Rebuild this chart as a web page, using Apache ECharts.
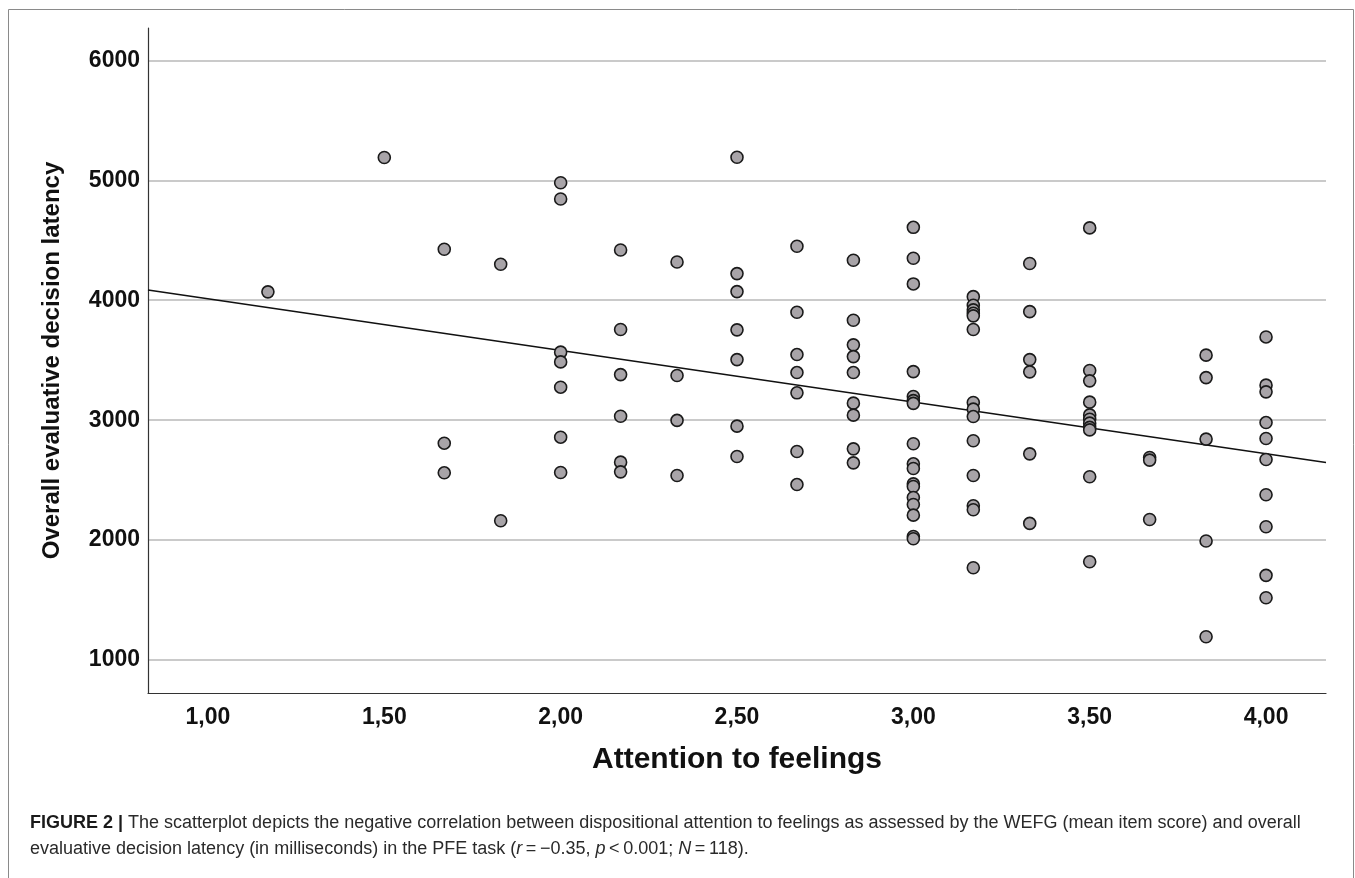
<!DOCTYPE html>
<html>
<head>
<meta charset="utf-8">
<script src="https://cdn.jsdelivr.net/npm/echarts@6/dist/echarts.min.js"></script>
<style>
  html, body { margin: 0; padding: 0; background: #fff; }
  #chart { width: 1355px; height: 878px; }
</style>
</head>
<body>
<div id="chart"></div>
<script>
// WEFG mean item score per column, with the latencies (ms) read in each column
var xLevels = [1.17, 1.50, 1.67, 1.83, 2.00, 2.17, 2.33, 2.50, 2.67, 2.83, 3.00, 3.17, 3.33, 3.50, 3.67, 3.83, 4.00];
var latencies = [
    [4070],
    [5190],
    [4425, 2808, 2561],
    [4300, 2161],
    [4980, 4844, 3567, 3486, 3275, 2858, 2564],
    [4419, 3756, 3380, 3033, 2650, 2569],
    [4319, 3372, 2998, 2539],
    [5192, 4222, 4072, 3753, 3505, 2950, 2697],
    [4450, 3900, 3547, 3397, 3228, 2739, 2463],
    [4333, 3833, 3628, 3530, 3397, 3142, 3042, 2761, 2644],
    [4608, 4350, 4136, 3405, 3197, 3163, 3140, 2803, 2636, 2597, 2469, 2447, 2355, 2297, 2208, 2030, 2011],
    [4030, 3958, 3920, 3892, 3870, 3756, 3147, 3092, 3030, 2828, 2539, 2286, 2253, 1769],
    [4306, 3905, 3505, 3403, 2719, 2139],
    [4603, 3414, 3328, 3150, 3044, 3008, 2975, 2940, 2919, 2528, 1819],
    [2689, 2667, 2172],
    [3542, 3355, 2842, 1992, 1194],
    [3694, 3292, 3236, 2980, 2847, 2672, 2378, 2111, 1706, 1519]
];
// regression line end points at the edges of the plot
var fitLine = [[0.83, 4086], [4.17, 2647]];

var xTicks = [1.0, 1.5, 2.0, 2.5, 3.0, 3.5, 4.0];
var yTicks = [1000, 2000, 3000, 4000, 5000, 6000];

var points = [];
xLevels.forEach(function (x, i) {
    latencies[i].forEach(function (y) {
        points.push([x, y]);
    });
});

var font = '"Liberation Sans", Arial, sans-serif';

var chart = echarts.init(document.getElementById('chart'));
var option = {
    backgroundColor: '#fff',
    animation: false,
    title: {
        left: 25,
        top: 805,
        text: '{b|FIGURE 2} {b||} The scatterplot depicts the negative correlation between dispositional attention to feelings as assessed by the WEFG (mean item score) and overall\n' +
            'evaluative decision latency (in milliseconds) in the PFE task ({i|r}\u2009=\u2009\u22120.35, {i|p}\u2009<\u20090.001; {i|N}\u2009=\u2009118).',
        textStyle: {
            fontFamily: font,
            fontSize: 18,
            fontWeight: 'normal',
            color: '#2a2a2a',
            lineHeight: 26,
            rich: {
                b: { fontFamily: font, fontSize: 18, fontWeight: 'bold', color: '#1a1a1a', lineHeight: 26 },
                i: { fontFamily: font, fontSize: 18, fontStyle: 'italic', color: '#2a2a2a', lineHeight: 26 }
            }
        }
    },
    graphic: [{
        type: 'rect',
        silent: true,
        shape: { x: 8.5, y: 9.5, width: 1345, height: 900 },
        style: { fill: 'none', stroke: '#8a8a8a', lineWidth: 1 }
    }],
    grid: { left: 148, right: 29, top: 28, bottom: 185 },
    xAxis: {
        type: 'value',
        min: 0.83,
        max: 4.17,
        name: 'Attention to feelings',
        nameLocation: 'middle',
        nameGap: 52,
        nameTextStyle: { fontFamily: font, fontSize: 30, fontWeight: 'bold', color: '#111' },
        axisLine: { show: true, onZero: false, lineStyle: { color: '#333', width: 1.2 } },
        axisTick: { show: false, customValues: xTicks },
        splitLine: { show: false },
        axisLabel: {
            customValues: xTicks,
            margin: 13,
            fontFamily: font,
            fontSize: 23,
            fontWeight: 'bold',
            color: '#111',
            formatter: function (v) { return v.toFixed(2).replace('.', ','); }
        }
    },
    yAxis: {
        type: 'value',
        min: 725,
        max: 6270,
        name: 'Overall evaluative decision latency',
        nameLocation: 'middle',
        nameGap: 84,
        nameTextStyle: { fontFamily: font, fontSize: 24, fontWeight: 'bold', color: '#111' },
        axisLine: { show: true, onZero: false, lineStyle: { color: '#333', width: 1.2 } },
        axisTick: { show: false, customValues: yTicks },
        splitLine: { show: true, lineStyle: { color: '#b8b8b8', width: 1.5 } },
        axisLabel: {
            customValues: yTicks,
            margin: 8,
            fontFamily: font,
            fontSize: 23,
            fontWeight: 'bold',
            color: '#111',
            formatter: function (v) { return String(v); }
        }
    },
    series: [{
        name: 'Fit',
        type: 'line',
        data: fitLine,
        symbol: 'none',
        silent: true,
        z: 1,
        lineStyle: { color: '#111', width: 1.5 }
    }, {
        name: 'Latency',
        type: 'scatter',
        data: points,
        symbol: 'circle',
        symbolSize: 12,
        z: 2,
        itemStyle: { color: '#a8a4a8', borderColor: '#1a1a1a', borderWidth: 1.6, opacity: 1 }
    }]
};
chart.setOption(option);
</script>
</body>
</html>
